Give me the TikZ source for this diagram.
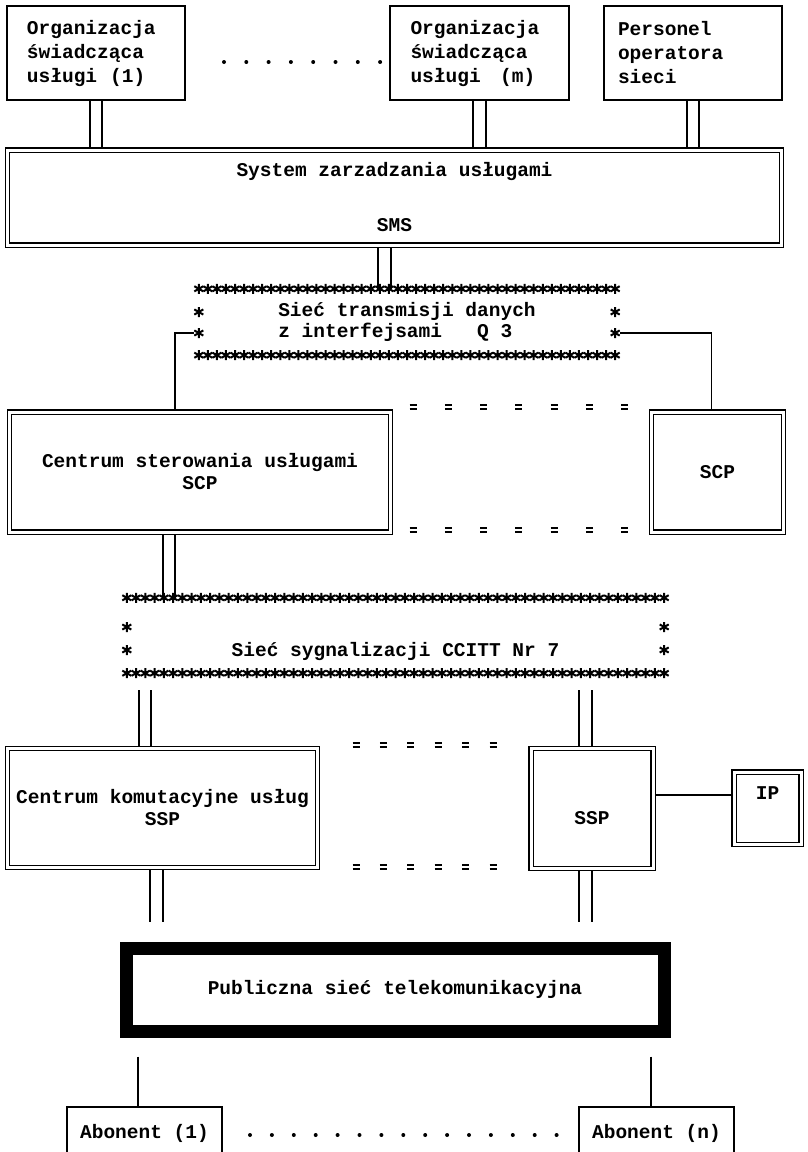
\documentclass[tikz,border=0pt]{standalone}
\usepackage{fontspec}
\setmonofont{Liberation Mono}
\usetikzlibrary{calc,backgrounds}

\newcommand\twf{\ttfamily\bfseries\fontsize{19.5}{24}\selectfont}

\tikzset{
  every node/.style={font=\twf},
  onebox/.style={draw, line width=1.6pt, inner sep=0pt},
  dblbox/.style={draw, double, double distance=3pt, line width=1.4pt, inner sep=0pt},
  dblline/.style={double, double distance=10.5pt, line width=1.8pt},
  thin line/.style={line width=1.7pt},
  astr/.pic={\draw[line width=2pt] (0,-5) -- (0,5) (-4.5,-2.6) -- (4.5,2.6) (-4.5,2.6) -- (4.5,-2.6);},
  eqs/.pic={\draw[line width=1.7pt] (-3.5,-2.2) -- (3.5,-2.2) (-3.5,2.2) -- (3.5,2.2);}
}

\begin{document}
\begin{tikzpicture}[x=1pt, y=-1pt]
  \useasboundingbox (0,0) rectangle (808,1152);
  \clip (0,0) rectangle (808,1152);

  % top row
  \node[onebox, minimum width=178pt, minimum height=94pt, text width=138pt, align=left] (org1) at (96,53)
    {Organizacja\\świadcząca\\usługi~~(1)};
  \node[onebox, minimum width=179pt, minimum height=94pt, text width=138pt, align=left] (orgm) at (479.5,53)
    {Organizacja\\świadcząca\\usługi~~~(m)};
  \node[onebox, minimum width=178pt, minimum height=94pt, text width=150pt, align=left] (pers) at (693,53)
    {Personel\\operatora\\sieci};
  \foreach \i in {0,...,7}
    \fill (224+\i*22.3,62) circle (2);

  % management system
  \node[dblbox, minimum width=774pt, minimum height=95pt, align=center] (sms) at (394.5,197.5)
    {System zarzadzania usługami\\[31pt]SMS};

  % data network
  \node[inner sep=0pt, minimum width=416pt, minimum height=66pt, align=left] (q3) at (407,322)
    {Sieć transmisji danych\\[-3pt]z interfejsami~~~Q~3};
  \foreach \i in {0,...,46} {
    \pic at ($(q3.north west)!\i/46!(q3.north east)$) {astr};
    \pic at ($(q3.south west)!\i/46!(q3.south east)$) {astr};
  }
  \foreach \d in {-10,11} {
    \pic at ($(q3.west)+(0,\d)$) {astr};
    \pic at ($(q3.east)+(0,\d)$) {astr};
  }

  % control points
  \node[dblbox, minimum width=381pt, minimum height=120pt, align=center] (scp1) at (200,472)
    {Centrum sterowania usługami\\[-2pt]SCP};
  \node[dblbox, minimum width=132pt, minimum height=120pt] (scp2) at (717.5,472) {SCP};
  \foreach \i in {0,...,6} {
    \pic at (413+\i*35.3,407) {eqs};
    \pic at (413+\i*35.3,530) {eqs};
  }

  % signalling network
  \node[inner sep=0pt, minimum width=537pt, text height=58pt, text depth=17pt] (ss7) at (395.5,635.5)
    {Sieć sygnalizacji CCITT Nr 7};
  \foreach \i in {0,...,58} {
    \pic at ($(ss7.north west)!\i/58!(ss7.north east)$) {astr};
    \pic at ($(ss7.south west)!\i/58!(ss7.south east)$) {astr};
  }
  \foreach \d in {-8.5,14.5} {
    \pic at ($(ss7.west)+(0,\d)$) {astr};
    \pic at ($(ss7.east)+(0,\d)$) {astr};
  }

  % switching points
  \node[dblbox, minimum width=310pt, minimum height=119pt, align=center] (ssp1) at (162.5,808)
    {Centrum komutacyjne usług\\[-2pt]SSP};
  \node[dblbox, minimum width=122pt, text height=75.5pt, text depth=44.5pt] (ssp2) at (592,808.5) {SSP};
  \node[dblbox, minimum width=67pt, text height=27pt, text depth=45.5pt] (ip) at (767.5,808.25) {IP};
  \foreach \i in {0,...,5} {
    \pic at (356+\i*27.4,745) {eqs};
    \pic at (356+\i*27.4,867) {eqs};
  }

  % public network and subscribers
  \node[draw, line width=13pt, inner sep=0pt, minimum width=538pt, minimum height=83pt] (pstn) at (395,989.5)
    {Publiczna sieć telekomunikacyjna};
  \node[onebox, minimum width=155pt, minimum height=52pt] (ab1) at (144.5,1133) {Abonent~(1)};
  \node[onebox, minimum width=155pt, minimum height=52pt] (abn) at (656.5,1133) {Abonent~(n)};
  \foreach \i in {0,...,14}
    \fill (250+\i*21.9,1135) circle (2);

  % connectors
  \begin{scope}[on background layer]
    \fill[white] (0,0) rectangle (808,1152);
    \foreach \b in {org1,orgm,pers}
      \draw[dblline] (\b.south) -- (\b.south |- sms.north);
    \coordinate (smsq) at ($(sms.south)+(-10,0)$);
    \draw[dblline] (smsq) -- (smsq |- q3.north);
    \draw[thin line] ($(q3.west)+(-5,11)$) -| ($(scp1.north)+(-25,0)$);
    \draw[thin line] ($(q3.east)+(5,11)$) -| ($(scp2.north)+(-6,0)$);
    \coordinate (scps) at ($(scp1.south)+(-31,0)$);
    \draw[dblline] (scps) -- (scps |- ss7.north);
    \coordinate (ssp1n) at ($(ssp1.north)+(-17.5,0)$);
    \draw[dblline, shorten <=17pt] (ssp1n |- ss7.south) -- (ssp1n);
    \coordinate (ssp2n) at ($(ssp2.north)+(-6.5,0)$);
    \draw[dblline, shorten <=17pt] (ssp2n |- ss7.south) -- (ssp2n);
    \coordinate (ipl) at ($(ssp2.east)+(0,-13.5)$);
    \draw[thin line] (ipl) -- (ipl -| ip.west);
    \coordinate (ssp1s) at ($(ssp1.south)+(-6,0)$);
    \draw[dblline, shorten >=20pt] (ssp1s) -- (ssp1s |- pstn.north);
    \coordinate (ssp2s) at ($(ssp2.south)+(-6.5,0)$);
    \draw[dblline, shorten >=20pt] (ssp2s) -- (ssp2s |- pstn.north);
    \coordinate (ab1n) at ($(ab1.north)+(-6.5,0)$);
    \draw[thin line, shorten <=19pt] (ab1n |- pstn.south) -- (ab1n);
    \coordinate (abnn) at ($(abn.north)+(-5.5,0)$);
    \draw[thin line, shorten <=19pt] (abnn |- pstn.south) -- (abnn);
  \end{scope}
\end{tikzpicture}
\end{document}
